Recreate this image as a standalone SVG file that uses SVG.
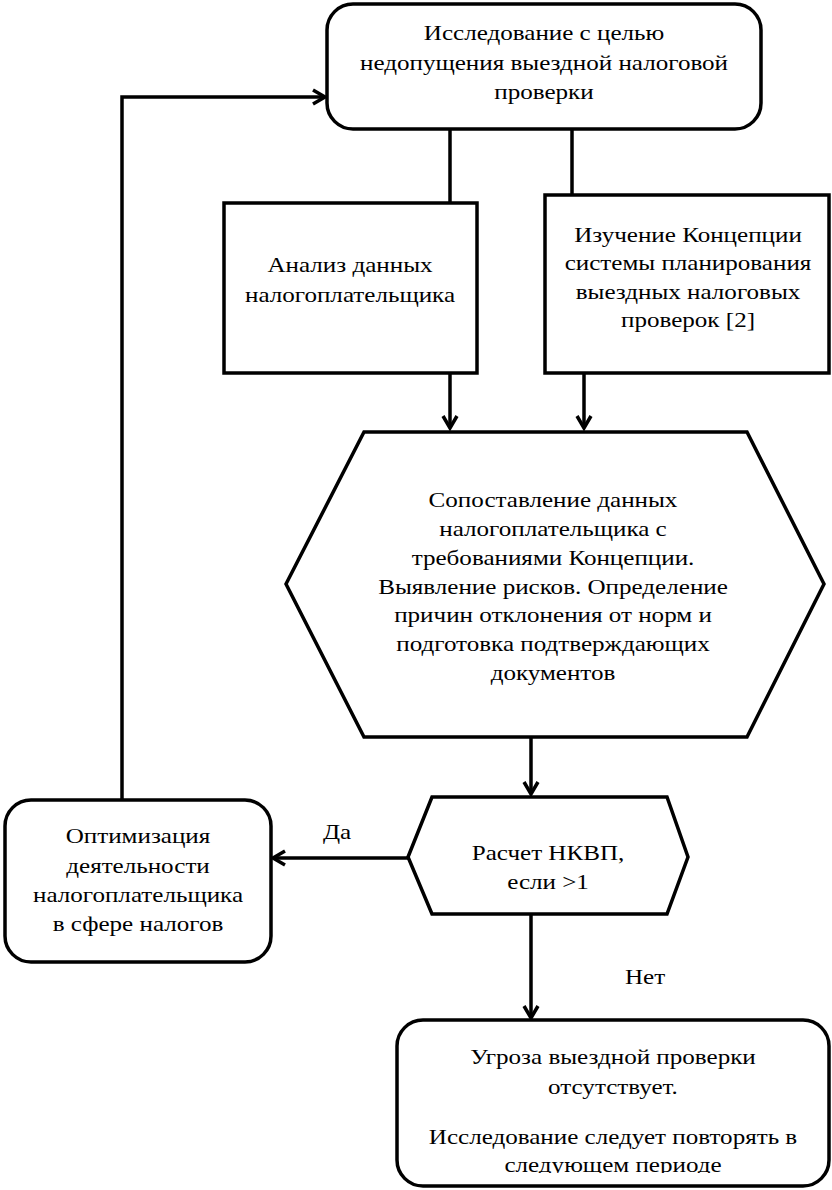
<svg xmlns="http://www.w3.org/2000/svg" width="832" height="1190" viewBox="0 0 832 1190">
<style>
.box{fill:#fff;stroke:#000;stroke-width:3.5}
.t{font-family:"Liberation Serif","Times New Roman",serif;font-size:22px;fill:#000;text-anchor:middle}
.c{fill:none;stroke:#000;stroke-width:3.5}
</style>
<defs>
<marker id="arr" markerUnits="userSpaceOnUse" markerWidth="16" markerHeight="18" refX="13" refY="8" orient="auto" overflow="visible">
<path d="M1,1 L13,8 L1,15" fill="none" stroke="#000" stroke-width="3.5"/>
</marker>
<clipPath id="clipb"><rect x="-250" y="1022" width="500" height="151"/></clipPath>
</defs>
<rect width="832" height="1190" fill="#fff"/>
<g id="connectors">
<line class="c" x1="450" y1="129" x2="450" y2="203"/>
<line class="c" x1="572" y1="129" x2="572" y2="195"/>
<line class="c" x1="450" y1="373" x2="450" y2="428" marker-end="url(#arr)"/>
<line class="c" x1="584" y1="373" x2="584" y2="428" marker-end="url(#arr)"/>
<line class="c" x1="531" y1="737" x2="531" y2="794" marker-end="url(#arr)"/>
<line class="c" x1="408" y1="858" x2="273" y2="858" marker-end="url(#arr)"/>
<line class="c" x1="531" y1="914" x2="531" y2="1018" marker-end="url(#arr)"/>
<polyline class="c" points="122,800 122,97 325,97" marker-end="url(#arr)"/>
<g transform="translate(337 0) scale(1.14 1)"><text class="t" x="0" y="839">Да</text></g>
<g transform="translate(645 0) scale(1.14 1)"><text class="t" x="0" y="984">Нет</text></g>
</g>
<g id="n-research">
<rect class="box" x="327" y="4" width="434" height="125" rx="26"/>
<g transform="translate(544 0) scale(1.14 1)">
<text class="t" x="0" y="40">Исследование с целью</text>
<text class="t" x="0" y="70">недопущения выездной налоговой</text>
<text class="t" x="0" y="99">проверки</text>
</g>
</g>
<g id="n-analysis">
<rect class="box" x="224" y="203" width="253" height="170"/>
<g transform="translate(350 0) scale(1.14 1)">
<text class="t" x="0" y="272">Анализ данных</text>
<text class="t" x="0" y="302">налогоплательщика</text>
</g>
</g>
<g id="n-concept">
<rect class="box" x="545" y="195" width="284" height="178"/>
<g transform="translate(688 0) scale(1.14 1)">
<text class="t" x="0" y="242">Изучение Концепции</text>
<text class="t" x="0" y="270">системы планирования</text>
<text class="t" x="0" y="299">выездных налоговых</text>
<text class="t" x="0" y="327">проверок [2]</text>
</g>
</g>
<g id="n-compare">
<polygon class="box" points="364,432 747,432 824,584 747,737 364,737 286,584"/>
<g transform="translate(553 0) scale(1.14 1)">
<text class="t" x="0" y="507">Сопоставление данных</text>
<text class="t" x="0" y="536">налогоплательщика с</text>
<text class="t" x="0" y="565">требованиями Концепции.</text>
<text class="t" x="0" y="594">Выявление рисков. Определение</text>
<text class="t" x="0" y="622">причин отклонения от норм и</text>
<text class="t" x="0" y="651">подготовка подтверждающих</text>
<text class="t" x="0" y="680">документов</text>
</g>
</g>
<g id="n-decision">
<polygon class="box" points="432,797 667,797 688,857 667,914 432,914 408,857"/>
<g transform="translate(548 0) scale(1.14 1)">
<text class="t" x="0" y="860">Расчет НКВП,</text>
<text class="t" x="0" y="889">если &gt;1</text>
</g>
</g>
<g id="n-optimize">
<rect class="box" x="5" y="800" width="266" height="162" rx="26"/>
<g transform="translate(138 0) scale(1.14 1)">
<text class="t" x="0" y="843">Оптимизация</text>
<text class="t" x="0" y="873">деятельности</text>
<text class="t" x="0" y="902">налогоплательщика</text>
<text class="t" x="0" y="931">в сфере налогов</text>
</g>
</g>
<g id="n-result">
<rect class="box" x="397" y="1020" width="432" height="166" rx="26"/>
<g transform="translate(613 0) scale(1.14 1)">
<text class="t" x="0" y="1064">Угроза выездной проверки</text>
<text class="t" x="0" y="1094">отсутствует.</text>
<g clip-path="url(#clipb)">
<text class="t" x="0" y="1144">Исследование следует повторять в</text>
<text class="t" x="0" y="1172">следующем периоде</text>
</g>
</g>
</g>
</svg>
